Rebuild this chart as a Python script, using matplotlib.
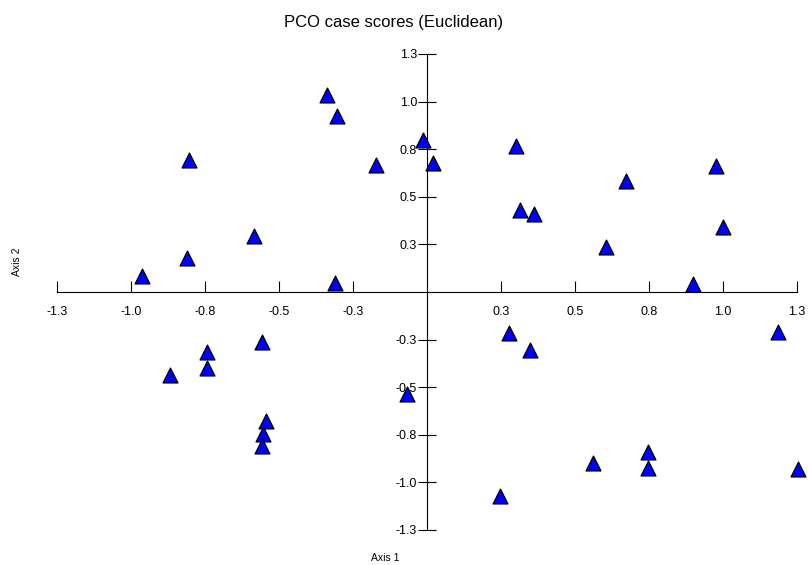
import matplotlib
matplotlib.use("Agg")
import matplotlib.pyplot as plt

plt.rcParams['font.family'] = ['Liberation Sans', 'DejaVu Sans']

# PCO scores (axis 1, axis 2)
axis1 = [-0.339, -0.303, -0.803, -0.173, -0.583, -0.812, -0.962, -0.312,
         -0.012, 0.021, 0.300, 0.976, 0.673, 0.315, 0.360, 0.999, 0.605, 0.900,
         -0.556, -0.742, -0.742, -0.868, -0.066, -0.543, -0.554, -0.557,
         0.278, 0.349, 1.187, 0.747, 0.561, 0.747, 1.252, 0.248]
axis2 = [1.037, 0.923, 0.692, 0.666, 0.294, 0.176, 0.085, 0.045,
         0.797, 0.679, 0.765, 0.660, 0.582, 0.430, 0.411, 0.342, 0.238, 0.042,
         -0.261, -0.317, -0.398, -0.438, -0.538, -0.680, -0.744, -0.811,
         -0.215, -0.307, -0.208, -0.841, -0.896, -0.922, -0.928, -1.074]

tick_vals = [-1.25, -1.0, -0.75, -0.5, -0.25, 0.25, 0.5, 0.75, 1.0, 1.25]
tick_text = ['-1.3', '-1.0', '-0.8', '-0.5', '-0.3', '0.3', '0.5', '0.8', '1.0', '1.3']

W, H = 808, 565
fig = plt.figure(figsize=(W / 100, H / 100), dpi=100)
ax = fig.add_axes([57 / W, 35 / H, 740 / W, 476 / H])
ax.set_xlim(-1.25, 1.25)
ax.set_ylim(-1.25, 1.25)

# axes crossing at the origin
for side in ['top', 'right']:
    ax.spines[side].set_visible(False)
for side in ['left', 'bottom']:
    ax.spines[side].set_position(('data', 0))
    ax.spines[side].set_linewidth(0.8)

ax.set_xticks(tick_vals)
ax.set_xticklabels(tick_text)
ax.set_yticks(tick_vals)
ax.set_yticklabels(tick_text)
ax.tick_params(axis='x', direction='in', length=7.6, width=0.8, pad=10, labelsize=9)
ax.tick_params(axis='y', direction='inout', length=13.2, width=0.8, pad=0.5, labelsize=9)

ax.scatter(axis1, axis2, marker='^', s=115, c='#0000FF', edgecolors='black',
           linewidths=0.9, zorder=3, clip_on=False)

fig.text(394 / W, 1 - 22 / H, 'PCO case scores (Euclidean)', ha='center', va='center', fontsize=12)
fig.text(385 / W, 1 - 558 / H, 'Axis 1', ha='center', va='center', fontsize=7.5)
fig.text(17 / W, 1 - 262 / H, 'Axis 2', ha='center', va='center', fontsize=7.5, rotation=90)

fig.savefig('out.png', dpi=100)
